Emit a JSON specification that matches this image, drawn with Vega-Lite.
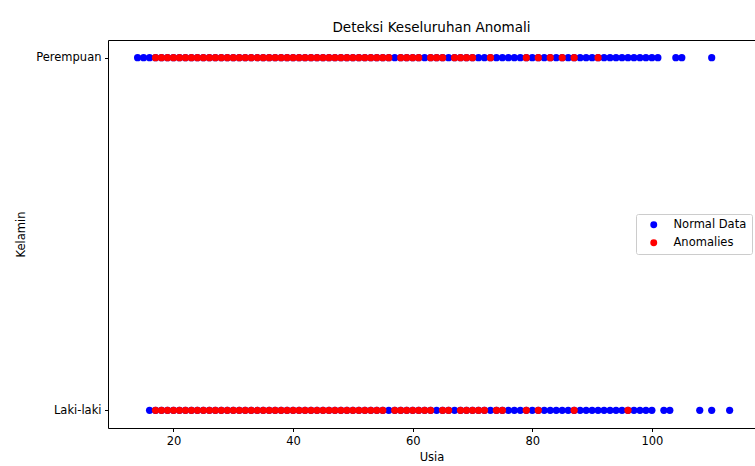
{
"$schema":"https://vega.github.io/schema/vega-lite/v6.json",
"autosize":"none",
"width":647,"height":388,
"padding":{"left":108,"top":40,"right":0,"bottom":38},
"background":"white",
"title":{"text":"Deteksi Keseluruhan Anomali","fontSize":13.5,"font":"DejaVu Sans","fontWeight":"normal","color":"black","anchor":"middle","offset":6},
"config":{"view":{"stroke":null},"axis":{"domainColor":"black","tickColor":"black","labelColor":"black","titleColor":"black","labelFont":"DejaVu Sans","titleFont":"DejaVu Sans","labelFontSize":11.5,"titleFontSize":11.5,"titleFontWeight":"normal","grid":false,"tickSize":3.5,"labelPadding":3.5}},
"data":{"values":[
{"Usia":14,"Kelamin":"Perempuan","Tipe":"Normal Data"},{"Usia":15,"Kelamin":"Perempuan","Tipe":"Normal Data"},{"Usia":16,"Kelamin":"Perempuan","Tipe":"Normal Data"},{"Usia":17,"Kelamin":"Perempuan","Tipe":"Normal Data"},{"Usia":18,"Kelamin":"Perempuan","Tipe":"Normal Data"},{"Usia":19,"Kelamin":"Perempuan","Tipe":"Normal Data"},{"Usia":20,"Kelamin":"Perempuan","Tipe":"Normal Data"},{"Usia":21,"Kelamin":"Perempuan","Tipe":"Normal Data"},{"Usia":22,"Kelamin":"Perempuan","Tipe":"Normal Data"},{"Usia":23,"Kelamin":"Perempuan","Tipe":"Normal Data"},{"Usia":24,"Kelamin":"Perempuan","Tipe":"Normal Data"},{"Usia":25,"Kelamin":"Perempuan","Tipe":"Normal Data"},{"Usia":26,"Kelamin":"Perempuan","Tipe":"Normal Data"},{"Usia":27,"Kelamin":"Perempuan","Tipe":"Normal Data"},{"Usia":28,"Kelamin":"Perempuan","Tipe":"Normal Data"},{"Usia":29,"Kelamin":"Perempuan","Tipe":"Normal Data"},{"Usia":30,"Kelamin":"Perempuan","Tipe":"Normal Data"},{"Usia":31,"Kelamin":"Perempuan","Tipe":"Normal Data"},{"Usia":32,"Kelamin":"Perempuan","Tipe":"Normal Data"},{"Usia":33,"Kelamin":"Perempuan","Tipe":"Normal Data"},{"Usia":34,"Kelamin":"Perempuan","Tipe":"Normal Data"},{"Usia":35,"Kelamin":"Perempuan","Tipe":"Normal Data"},{"Usia":36,"Kelamin":"Perempuan","Tipe":"Normal Data"},{"Usia":37,"Kelamin":"Perempuan","Tipe":"Normal Data"},{"Usia":38,"Kelamin":"Perempuan","Tipe":"Normal Data"},{"Usia":39,"Kelamin":"Perempuan","Tipe":"Normal Data"},{"Usia":40,"Kelamin":"Perempuan","Tipe":"Normal Data"},{"Usia":41,"Kelamin":"Perempuan","Tipe":"Normal Data"},{"Usia":42,"Kelamin":"Perempuan","Tipe":"Normal Data"},{"Usia":43,"Kelamin":"Perempuan","Tipe":"Normal Data"},{"Usia":44,"Kelamin":"Perempuan","Tipe":"Normal Data"},{"Usia":45,"Kelamin":"Perempuan","Tipe":"Normal Data"},{"Usia":46,"Kelamin":"Perempuan","Tipe":"Normal Data"},{"Usia":47,"Kelamin":"Perempuan","Tipe":"Normal Data"},{"Usia":48,"Kelamin":"Perempuan","Tipe":"Normal Data"},{"Usia":49,"Kelamin":"Perempuan","Tipe":"Normal Data"},{"Usia":50,"Kelamin":"Perempuan","Tipe":"Normal Data"},{"Usia":51,"Kelamin":"Perempuan","Tipe":"Normal Data"},{"Usia":52,"Kelamin":"Perempuan","Tipe":"Normal Data"},{"Usia":53,"Kelamin":"Perempuan","Tipe":"Normal Data"},{"Usia":54,"Kelamin":"Perempuan","Tipe":"Normal Data"},{"Usia":55,"Kelamin":"Perempuan","Tipe":"Normal Data"},{"Usia":56,"Kelamin":"Perempuan","Tipe":"Normal Data"},{"Usia":57,"Kelamin":"Perempuan","Tipe":"Normal Data"},{"Usia":58,"Kelamin":"Perempuan","Tipe":"Normal Data"},{"Usia":59,"Kelamin":"Perempuan","Tipe":"Normal Data"},{"Usia":60,"Kelamin":"Perempuan","Tipe":"Normal Data"},{"Usia":61,"Kelamin":"Perempuan","Tipe":"Normal Data"},{"Usia":62,"Kelamin":"Perempuan","Tipe":"Normal Data"},{"Usia":63,"Kelamin":"Perempuan","Tipe":"Normal Data"},{"Usia":64,"Kelamin":"Perempuan","Tipe":"Normal Data"},{"Usia":65,"Kelamin":"Perempuan","Tipe":"Normal Data"},{"Usia":66,"Kelamin":"Perempuan","Tipe":"Normal Data"},{"Usia":67,"Kelamin":"Perempuan","Tipe":"Normal Data"},{"Usia":68,"Kelamin":"Perempuan","Tipe":"Normal Data"},{"Usia":69,"Kelamin":"Perempuan","Tipe":"Normal Data"},{"Usia":70,"Kelamin":"Perempuan","Tipe":"Normal Data"},{"Usia":71,"Kelamin":"Perempuan","Tipe":"Normal Data"},{"Usia":72,"Kelamin":"Perempuan","Tipe":"Normal Data"},{"Usia":73,"Kelamin":"Perempuan","Tipe":"Normal Data"},{"Usia":74,"Kelamin":"Perempuan","Tipe":"Normal Data"},{"Usia":75,"Kelamin":"Perempuan","Tipe":"Normal Data"},{"Usia":76,"Kelamin":"Perempuan","Tipe":"Normal Data"},{"Usia":77,"Kelamin":"Perempuan","Tipe":"Normal Data"},{"Usia":78,"Kelamin":"Perempuan","Tipe":"Normal Data"},{"Usia":79,"Kelamin":"Perempuan","Tipe":"Normal Data"},{"Usia":80,"Kelamin":"Perempuan","Tipe":"Normal Data"},{"Usia":81,"Kelamin":"Perempuan","Tipe":"Normal Data"},{"Usia":82,"Kelamin":"Perempuan","Tipe":"Normal Data"},{"Usia":83,"Kelamin":"Perempuan","Tipe":"Normal Data"},{"Usia":84,"Kelamin":"Perempuan","Tipe":"Normal Data"},{"Usia":85,"Kelamin":"Perempuan","Tipe":"Normal Data"},{"Usia":86,"Kelamin":"Perempuan","Tipe":"Normal Data"},{"Usia":87,"Kelamin":"Perempuan","Tipe":"Normal Data"},{"Usia":88,"Kelamin":"Perempuan","Tipe":"Normal Data"},{"Usia":89,"Kelamin":"Perempuan","Tipe":"Normal Data"},{"Usia":90,"Kelamin":"Perempuan","Tipe":"Normal Data"},{"Usia":91,"Kelamin":"Perempuan","Tipe":"Normal Data"},{"Usia":92,"Kelamin":"Perempuan","Tipe":"Normal Data"},{"Usia":93,"Kelamin":"Perempuan","Tipe":"Normal Data"},{"Usia":94,"Kelamin":"Perempuan","Tipe":"Normal Data"},{"Usia":95,"Kelamin":"Perempuan","Tipe":"Normal Data"},{"Usia":96,"Kelamin":"Perempuan","Tipe":"Normal Data"},{"Usia":97,"Kelamin":"Perempuan","Tipe":"Normal Data"},{"Usia":98,"Kelamin":"Perempuan","Tipe":"Normal Data"},{"Usia":99,"Kelamin":"Perempuan","Tipe":"Normal Data"},{"Usia":100,"Kelamin":"Perempuan","Tipe":"Normal Data"},{"Usia":101,"Kelamin":"Perempuan","Tipe":"Normal Data"},{"Usia":104,"Kelamin":"Perempuan","Tipe":"Normal Data"},{"Usia":105,"Kelamin":"Perempuan","Tipe":"Normal Data"},{"Usia":110,"Kelamin":"Perempuan","Tipe":"Normal Data"},
{"Usia":16,"Kelamin":"Laki-laki","Tipe":"Normal Data"},{"Usia":17,"Kelamin":"Laki-laki","Tipe":"Normal Data"},{"Usia":18,"Kelamin":"Laki-laki","Tipe":"Normal Data"},{"Usia":19,"Kelamin":"Laki-laki","Tipe":"Normal Data"},{"Usia":20,"Kelamin":"Laki-laki","Tipe":"Normal Data"},{"Usia":21,"Kelamin":"Laki-laki","Tipe":"Normal Data"},{"Usia":22,"Kelamin":"Laki-laki","Tipe":"Normal Data"},{"Usia":23,"Kelamin":"Laki-laki","Tipe":"Normal Data"},{"Usia":24,"Kelamin":"Laki-laki","Tipe":"Normal Data"},{"Usia":25,"Kelamin":"Laki-laki","Tipe":"Normal Data"},{"Usia":26,"Kelamin":"Laki-laki","Tipe":"Normal Data"},{"Usia":27,"Kelamin":"Laki-laki","Tipe":"Normal Data"},{"Usia":28,"Kelamin":"Laki-laki","Tipe":"Normal Data"},{"Usia":29,"Kelamin":"Laki-laki","Tipe":"Normal Data"},{"Usia":30,"Kelamin":"Laki-laki","Tipe":"Normal Data"},{"Usia":31,"Kelamin":"Laki-laki","Tipe":"Normal Data"},{"Usia":32,"Kelamin":"Laki-laki","Tipe":"Normal Data"},{"Usia":33,"Kelamin":"Laki-laki","Tipe":"Normal Data"},{"Usia":34,"Kelamin":"Laki-laki","Tipe":"Normal Data"},{"Usia":35,"Kelamin":"Laki-laki","Tipe":"Normal Data"},{"Usia":36,"Kelamin":"Laki-laki","Tipe":"Normal Data"},{"Usia":37,"Kelamin":"Laki-laki","Tipe":"Normal Data"},{"Usia":38,"Kelamin":"Laki-laki","Tipe":"Normal Data"},{"Usia":39,"Kelamin":"Laki-laki","Tipe":"Normal Data"},{"Usia":40,"Kelamin":"Laki-laki","Tipe":"Normal Data"},{"Usia":41,"Kelamin":"Laki-laki","Tipe":"Normal Data"},{"Usia":42,"Kelamin":"Laki-laki","Tipe":"Normal Data"},{"Usia":43,"Kelamin":"Laki-laki","Tipe":"Normal Data"},{"Usia":44,"Kelamin":"Laki-laki","Tipe":"Normal Data"},{"Usia":45,"Kelamin":"Laki-laki","Tipe":"Normal Data"},{"Usia":46,"Kelamin":"Laki-laki","Tipe":"Normal Data"},{"Usia":47,"Kelamin":"Laki-laki","Tipe":"Normal Data"},{"Usia":48,"Kelamin":"Laki-laki","Tipe":"Normal Data"},{"Usia":49,"Kelamin":"Laki-laki","Tipe":"Normal Data"},{"Usia":50,"Kelamin":"Laki-laki","Tipe":"Normal Data"},{"Usia":51,"Kelamin":"Laki-laki","Tipe":"Normal Data"},{"Usia":52,"Kelamin":"Laki-laki","Tipe":"Normal Data"},{"Usia":53,"Kelamin":"Laki-laki","Tipe":"Normal Data"},{"Usia":54,"Kelamin":"Laki-laki","Tipe":"Normal Data"},{"Usia":55,"Kelamin":"Laki-laki","Tipe":"Normal Data"},{"Usia":56,"Kelamin":"Laki-laki","Tipe":"Normal Data"},{"Usia":57,"Kelamin":"Laki-laki","Tipe":"Normal Data"},{"Usia":58,"Kelamin":"Laki-laki","Tipe":"Normal Data"},{"Usia":59,"Kelamin":"Laki-laki","Tipe":"Normal Data"},{"Usia":60,"Kelamin":"Laki-laki","Tipe":"Normal Data"},{"Usia":61,"Kelamin":"Laki-laki","Tipe":"Normal Data"},{"Usia":62,"Kelamin":"Laki-laki","Tipe":"Normal Data"},{"Usia":63,"Kelamin":"Laki-laki","Tipe":"Normal Data"},{"Usia":64,"Kelamin":"Laki-laki","Tipe":"Normal Data"},{"Usia":65,"Kelamin":"Laki-laki","Tipe":"Normal Data"},{"Usia":66,"Kelamin":"Laki-laki","Tipe":"Normal Data"},{"Usia":67,"Kelamin":"Laki-laki","Tipe":"Normal Data"},{"Usia":68,"Kelamin":"Laki-laki","Tipe":"Normal Data"},{"Usia":69,"Kelamin":"Laki-laki","Tipe":"Normal Data"},{"Usia":70,"Kelamin":"Laki-laki","Tipe":"Normal Data"},{"Usia":71,"Kelamin":"Laki-laki","Tipe":"Normal Data"},{"Usia":72,"Kelamin":"Laki-laki","Tipe":"Normal Data"},{"Usia":73,"Kelamin":"Laki-laki","Tipe":"Normal Data"},{"Usia":74,"Kelamin":"Laki-laki","Tipe":"Normal Data"},{"Usia":75,"Kelamin":"Laki-laki","Tipe":"Normal Data"},{"Usia":76,"Kelamin":"Laki-laki","Tipe":"Normal Data"},{"Usia":77,"Kelamin":"Laki-laki","Tipe":"Normal Data"},{"Usia":78,"Kelamin":"Laki-laki","Tipe":"Normal Data"},{"Usia":79,"Kelamin":"Laki-laki","Tipe":"Normal Data"},{"Usia":80,"Kelamin":"Laki-laki","Tipe":"Normal Data"},{"Usia":81,"Kelamin":"Laki-laki","Tipe":"Normal Data"},{"Usia":82,"Kelamin":"Laki-laki","Tipe":"Normal Data"},{"Usia":83,"Kelamin":"Laki-laki","Tipe":"Normal Data"},{"Usia":84,"Kelamin":"Laki-laki","Tipe":"Normal Data"},{"Usia":85,"Kelamin":"Laki-laki","Tipe":"Normal Data"},{"Usia":86,"Kelamin":"Laki-laki","Tipe":"Normal Data"},{"Usia":87,"Kelamin":"Laki-laki","Tipe":"Normal Data"},{"Usia":88,"Kelamin":"Laki-laki","Tipe":"Normal Data"},{"Usia":89,"Kelamin":"Laki-laki","Tipe":"Normal Data"},{"Usia":90,"Kelamin":"Laki-laki","Tipe":"Normal Data"},{"Usia":91,"Kelamin":"Laki-laki","Tipe":"Normal Data"},{"Usia":92,"Kelamin":"Laki-laki","Tipe":"Normal Data"},{"Usia":93,"Kelamin":"Laki-laki","Tipe":"Normal Data"},{"Usia":94,"Kelamin":"Laki-laki","Tipe":"Normal Data"},{"Usia":95,"Kelamin":"Laki-laki","Tipe":"Normal Data"},{"Usia":96,"Kelamin":"Laki-laki","Tipe":"Normal Data"},{"Usia":97,"Kelamin":"Laki-laki","Tipe":"Normal Data"},{"Usia":98,"Kelamin":"Laki-laki","Tipe":"Normal Data"},{"Usia":99,"Kelamin":"Laki-laki","Tipe":"Normal Data"},{"Usia":100,"Kelamin":"Laki-laki","Tipe":"Normal Data"},{"Usia":102,"Kelamin":"Laki-laki","Tipe":"Normal Data"},{"Usia":103,"Kelamin":"Laki-laki","Tipe":"Normal Data"},{"Usia":108,"Kelamin":"Laki-laki","Tipe":"Normal Data"},{"Usia":110,"Kelamin":"Laki-laki","Tipe":"Normal Data"},{"Usia":113,"Kelamin":"Laki-laki","Tipe":"Normal Data"},
{"Usia":17,"Kelamin":"Perempuan","Tipe":"Anomalies"},{"Usia":18,"Kelamin":"Perempuan","Tipe":"Anomalies"},{"Usia":19,"Kelamin":"Perempuan","Tipe":"Anomalies"},{"Usia":20,"Kelamin":"Perempuan","Tipe":"Anomalies"},{"Usia":21,"Kelamin":"Perempuan","Tipe":"Anomalies"},{"Usia":22,"Kelamin":"Perempuan","Tipe":"Anomalies"},{"Usia":23,"Kelamin":"Perempuan","Tipe":"Anomalies"},{"Usia":24,"Kelamin":"Perempuan","Tipe":"Anomalies"},{"Usia":25,"Kelamin":"Perempuan","Tipe":"Anomalies"},{"Usia":26,"Kelamin":"Perempuan","Tipe":"Anomalies"},{"Usia":27,"Kelamin":"Perempuan","Tipe":"Anomalies"},{"Usia":28,"Kelamin":"Perempuan","Tipe":"Anomalies"},{"Usia":29,"Kelamin":"Perempuan","Tipe":"Anomalies"},{"Usia":30,"Kelamin":"Perempuan","Tipe":"Anomalies"},{"Usia":31,"Kelamin":"Perempuan","Tipe":"Anomalies"},{"Usia":32,"Kelamin":"Perempuan","Tipe":"Anomalies"},{"Usia":33,"Kelamin":"Perempuan","Tipe":"Anomalies"},{"Usia":34,"Kelamin":"Perempuan","Tipe":"Anomalies"},{"Usia":35,"Kelamin":"Perempuan","Tipe":"Anomalies"},{"Usia":36,"Kelamin":"Perempuan","Tipe":"Anomalies"},{"Usia":37,"Kelamin":"Perempuan","Tipe":"Anomalies"},{"Usia":38,"Kelamin":"Perempuan","Tipe":"Anomalies"},{"Usia":39,"Kelamin":"Perempuan","Tipe":"Anomalies"},{"Usia":40,"Kelamin":"Perempuan","Tipe":"Anomalies"},{"Usia":41,"Kelamin":"Perempuan","Tipe":"Anomalies"},{"Usia":42,"Kelamin":"Perempuan","Tipe":"Anomalies"},{"Usia":43,"Kelamin":"Perempuan","Tipe":"Anomalies"},{"Usia":44,"Kelamin":"Perempuan","Tipe":"Anomalies"},{"Usia":45,"Kelamin":"Perempuan","Tipe":"Anomalies"},{"Usia":46,"Kelamin":"Perempuan","Tipe":"Anomalies"},{"Usia":47,"Kelamin":"Perempuan","Tipe":"Anomalies"},{"Usia":48,"Kelamin":"Perempuan","Tipe":"Anomalies"},{"Usia":49,"Kelamin":"Perempuan","Tipe":"Anomalies"},{"Usia":50,"Kelamin":"Perempuan","Tipe":"Anomalies"},{"Usia":51,"Kelamin":"Perempuan","Tipe":"Anomalies"},{"Usia":52,"Kelamin":"Perempuan","Tipe":"Anomalies"},{"Usia":53,"Kelamin":"Perempuan","Tipe":"Anomalies"},{"Usia":54,"Kelamin":"Perempuan","Tipe":"Anomalies"},{"Usia":55,"Kelamin":"Perempuan","Tipe":"Anomalies"},{"Usia":56,"Kelamin":"Perempuan","Tipe":"Anomalies"},{"Usia":58,"Kelamin":"Perempuan","Tipe":"Anomalies"},{"Usia":59,"Kelamin":"Perempuan","Tipe":"Anomalies"},{"Usia":60,"Kelamin":"Perempuan","Tipe":"Anomalies"},{"Usia":61,"Kelamin":"Perempuan","Tipe":"Anomalies"},{"Usia":63,"Kelamin":"Perempuan","Tipe":"Anomalies"},{"Usia":64,"Kelamin":"Perempuan","Tipe":"Anomalies"},{"Usia":65,"Kelamin":"Perempuan","Tipe":"Anomalies"},{"Usia":67,"Kelamin":"Perempuan","Tipe":"Anomalies"},{"Usia":68,"Kelamin":"Perempuan","Tipe":"Anomalies"},{"Usia":69,"Kelamin":"Perempuan","Tipe":"Anomalies"},{"Usia":70,"Kelamin":"Perempuan","Tipe":"Anomalies"},{"Usia":73,"Kelamin":"Perempuan","Tipe":"Anomalies"},{"Usia":79,"Kelamin":"Perempuan","Tipe":"Anomalies"},{"Usia":81,"Kelamin":"Perempuan","Tipe":"Anomalies"},{"Usia":83,"Kelamin":"Perempuan","Tipe":"Anomalies"},{"Usia":85,"Kelamin":"Perempuan","Tipe":"Anomalies"},{"Usia":87,"Kelamin":"Perempuan","Tipe":"Anomalies"},{"Usia":91,"Kelamin":"Perempuan","Tipe":"Anomalies"},
{"Usia":17,"Kelamin":"Laki-laki","Tipe":"Anomalies"},{"Usia":18,"Kelamin":"Laki-laki","Tipe":"Anomalies"},{"Usia":19,"Kelamin":"Laki-laki","Tipe":"Anomalies"},{"Usia":20,"Kelamin":"Laki-laki","Tipe":"Anomalies"},{"Usia":21,"Kelamin":"Laki-laki","Tipe":"Anomalies"},{"Usia":22,"Kelamin":"Laki-laki","Tipe":"Anomalies"},{"Usia":23,"Kelamin":"Laki-laki","Tipe":"Anomalies"},{"Usia":24,"Kelamin":"Laki-laki","Tipe":"Anomalies"},{"Usia":25,"Kelamin":"Laki-laki","Tipe":"Anomalies"},{"Usia":26,"Kelamin":"Laki-laki","Tipe":"Anomalies"},{"Usia":27,"Kelamin":"Laki-laki","Tipe":"Anomalies"},{"Usia":28,"Kelamin":"Laki-laki","Tipe":"Anomalies"},{"Usia":29,"Kelamin":"Laki-laki","Tipe":"Anomalies"},{"Usia":30,"Kelamin":"Laki-laki","Tipe":"Anomalies"},{"Usia":31,"Kelamin":"Laki-laki","Tipe":"Anomalies"},{"Usia":32,"Kelamin":"Laki-laki","Tipe":"Anomalies"},{"Usia":33,"Kelamin":"Laki-laki","Tipe":"Anomalies"},{"Usia":34,"Kelamin":"Laki-laki","Tipe":"Anomalies"},{"Usia":35,"Kelamin":"Laki-laki","Tipe":"Anomalies"},{"Usia":36,"Kelamin":"Laki-laki","Tipe":"Anomalies"},{"Usia":37,"Kelamin":"Laki-laki","Tipe":"Anomalies"},{"Usia":38,"Kelamin":"Laki-laki","Tipe":"Anomalies"},{"Usia":39,"Kelamin":"Laki-laki","Tipe":"Anomalies"},{"Usia":40,"Kelamin":"Laki-laki","Tipe":"Anomalies"},{"Usia":41,"Kelamin":"Laki-laki","Tipe":"Anomalies"},{"Usia":42,"Kelamin":"Laki-laki","Tipe":"Anomalies"},{"Usia":43,"Kelamin":"Laki-laki","Tipe":"Anomalies"},{"Usia":44,"Kelamin":"Laki-laki","Tipe":"Anomalies"},{"Usia":45,"Kelamin":"Laki-laki","Tipe":"Anomalies"},{"Usia":46,"Kelamin":"Laki-laki","Tipe":"Anomalies"},{"Usia":47,"Kelamin":"Laki-laki","Tipe":"Anomalies"},{"Usia":48,"Kelamin":"Laki-laki","Tipe":"Anomalies"},{"Usia":49,"Kelamin":"Laki-laki","Tipe":"Anomalies"},{"Usia":50,"Kelamin":"Laki-laki","Tipe":"Anomalies"},{"Usia":51,"Kelamin":"Laki-laki","Tipe":"Anomalies"},{"Usia":52,"Kelamin":"Laki-laki","Tipe":"Anomalies"},{"Usia":53,"Kelamin":"Laki-laki","Tipe":"Anomalies"},{"Usia":54,"Kelamin":"Laki-laki","Tipe":"Anomalies"},{"Usia":55,"Kelamin":"Laki-laki","Tipe":"Anomalies"},{"Usia":57,"Kelamin":"Laki-laki","Tipe":"Anomalies"},{"Usia":58,"Kelamin":"Laki-laki","Tipe":"Anomalies"},{"Usia":59,"Kelamin":"Laki-laki","Tipe":"Anomalies"},{"Usia":60,"Kelamin":"Laki-laki","Tipe":"Anomalies"},{"Usia":61,"Kelamin":"Laki-laki","Tipe":"Anomalies"},{"Usia":62,"Kelamin":"Laki-laki","Tipe":"Anomalies"},{"Usia":63,"Kelamin":"Laki-laki","Tipe":"Anomalies"},{"Usia":65,"Kelamin":"Laki-laki","Tipe":"Anomalies"},{"Usia":66,"Kelamin":"Laki-laki","Tipe":"Anomalies"},{"Usia":68,"Kelamin":"Laki-laki","Tipe":"Anomalies"},{"Usia":69,"Kelamin":"Laki-laki","Tipe":"Anomalies"},{"Usia":70,"Kelamin":"Laki-laki","Tipe":"Anomalies"},{"Usia":71,"Kelamin":"Laki-laki","Tipe":"Anomalies"},{"Usia":72,"Kelamin":"Laki-laki","Tipe":"Anomalies"},{"Usia":74,"Kelamin":"Laki-laki","Tipe":"Anomalies"},{"Usia":75,"Kelamin":"Laki-laki","Tipe":"Anomalies"},{"Usia":79,"Kelamin":"Laki-laki","Tipe":"Anomalies"},{"Usia":81,"Kelamin":"Laki-laki","Tipe":"Anomalies"},{"Usia":87,"Kelamin":"Laki-laki","Tipe":"Anomalies"},{"Usia":96,"Kelamin":"Laki-laki","Tipe":"Anomalies"}
]},
"encoding":{
"x":{"field":"Usia","type":"quantitative","scale":{"domain":[9.05,117.24],"nice":false,"zero":false}},
"y":{"field":"Kelamin","type":"nominal","sort":["Perempuan","Laki-laki"],"scale":{"type":"point","domain":["Perempuan","Laki-laki"],"padding":0.05},"axis":{"title":"Kelamin","titlePadding":9,"labelAngle":0}},
"color":{"field":"Tipe","type":"nominal","scale":{"domain":["Normal Data","Anomalies"],"range":["#0000ff","#ff0000"]},"legend":{"title":null,"orient":"none","legendX":528,"legendY":174,"labelFont":"DejaVu Sans","labelFontSize":11.5,"labelColor":"black","symbolSize":48,"symbolType":"circle","symbolStrokeWidth":0,"fillColor":"white","strokeColor":"#cccccc","padding":5,"cornerRadius":2,"rowPadding":5,"symbolOffset":7,"labelOffset":14}}
},
"layer":[
{"transform":[{"filter":"datum.Tipe === 'Normal Data'"}],"mark":{"type":"point","filled":true,"size":52,"opacity":1,"strokeWidth":0},"encoding":{"x":{"field":"Usia","type":"quantitative","axis":{"title":"Usia","values":[20,40,60,80,100],"titlePadding":5}}}},
{"transform":[{"filter":"datum.Tipe === 'Anomalies'"}],"mark":{"type":"point","filled":true,"size":52,"opacity":1,"strokeWidth":0},"encoding":{"x":{"field":"Usia","type":"quantitative","axis":{"orient":"top","labels":false,"ticks":false,"title":null}}}}
],
"resolve":{"axis":{"x":"independent"}}
}
